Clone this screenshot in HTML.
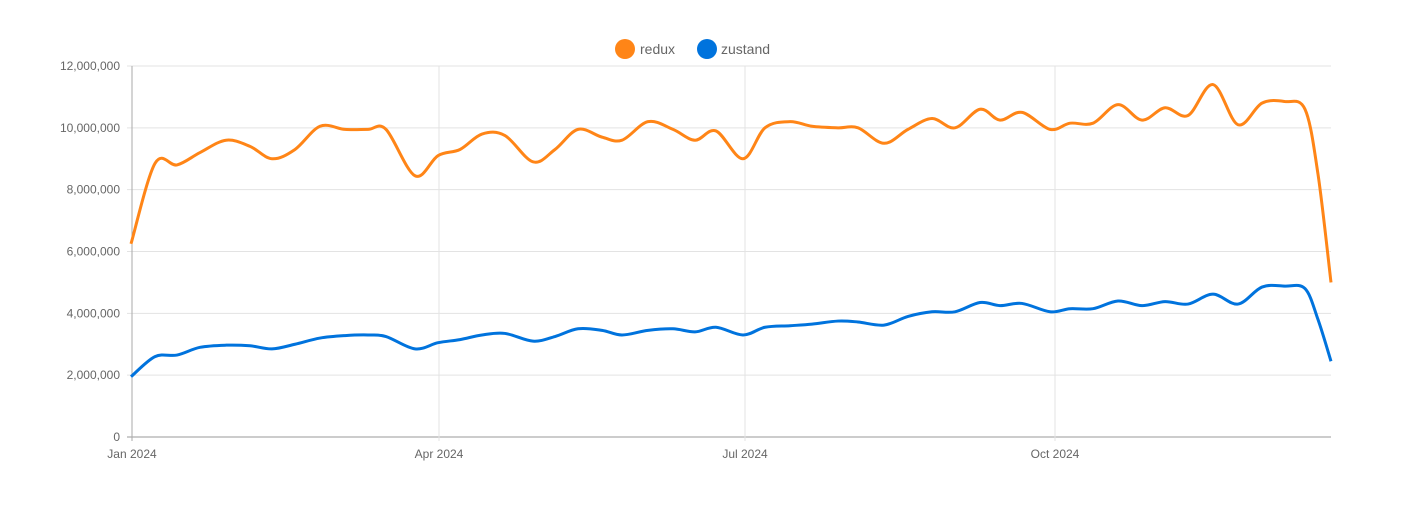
<!DOCTYPE html>
<html><head><meta charset="utf-8"><style>
body{margin:0;background:#fff;font-family:"Liberation Sans",Arial,sans-serif}
svg text{font-family:"Liberation Sans",Arial,sans-serif;fill:#666}
</style></head><body>
<svg id="chart" width="1406" height="521" viewBox="0 0 1406 521" xmlns="http://www.w3.org/2000/svg">
<g id="grid"></g>
<g id="axes"></g>
<g id="lines"></g>
<g>
 <g><circle cx="625" cy="49" r="10" fill="#ff8517"/><text x="640" y="54" font-size="14">redux</text></g>
 <g><circle cx="707" cy="49" r="10" fill="#0073dd"/><text x="721" y="54" font-size="14">zustand</text></g>
</g>
</svg>
<script>
const redux=[6.25,8.85,8.8,9.2,9.6,9.4,9.0,9.3,10.05,9.95,9.95,9.95,8.45,9.1,9.3,9.8,9.75,8.9,9.3,9.95,9.7,9.6,10.2,9.95,9.6,9.9,9.0,10.0,10.2,10.05,10.0,10.0,9.5,9.95,10.3,10.0,10.6,10.25,10.5,9.95,10.15,10.15,10.75,10.25,10.65,10.4,11.4,10.1,10.8,10.85,10.6,8.5,5.0];
const zustand=[1.95,2.6,2.65,2.9,2.97,2.95,2.85,3.0,3.2,3.28,3.3,3.25,2.85,3.05,3.15,3.3,3.35,3.1,3.25,3.5,3.45,3.3,3.45,3.5,3.4,3.55,3.3,3.55,3.6,3.65,3.75,3.72,3.62,3.9,4.05,4.05,4.35,4.25,4.32,4.05,4.15,4.15,4.4,4.25,4.38,4.3,4.62,4.3,4.85,4.88,4.8,3.8,2.45];
const pointX=[131,155,177,200,226,250,272,295,320,345,368,386,415,438,460,482,505,533,555,578,602,622,648,673,695,716,743,765,790,812,838,858,884,908,932,955,980,1000,1022,1050,1070,1093,1118,1142,1165,1188,1213,1238,1262,1285,1305,1318,1331];
const yTicks=[0,2,4,6,8,10,12];
const yTickLabels=["0","2,000,000","4,000,000","6,000,000","8,000,000","10,000,000","12,000,000"];
const xTickLabels=["Jan 2024","Apr 2024","Jul 2024","Oct 2024"];
const xTickPos=[132,439,745,1055];
const NS="http://www.w3.org/2000/svg";
const y=v=>437-v*(371/12);
function mk(t,a,p){const e=document.createElementNS(NS,t);for(const k in a)e.setAttribute(k,a[k]);p.appendChild(e);return e;}
const grid=document.getElementById('grid'),axes=document.getElementById('axes'),lines=document.getElementById('lines');
yTicks.forEach((v,i)=>{
 const l=mk('line',{x1:127,x2:1331,y1:y(v),y2:y(v),stroke:v===0?'#999':'#e3e3e3','stroke-width':1},grid);
 
 
 const t=mk('text',{x:120,y:y(v)+4,'text-anchor':'end','font-size':12},axes);
 t.textContent=yTickLabels[i];
 
 
});
xTickLabels.forEach((s,i)=>{
 const l=mk('line',{x1:xTickPos[i],x2:xTickPos[i],y1:66,y2:441,stroke:i===0?'#aaa':'#e3e3e3','stroke-width':1},grid);
 
 
 const t=mk('text',{x:xTickPos[i],y:458,'text-anchor':'middle','font-size':12},axes);
 t.textContent=s;
 
 
});
function path(vals){
 const p=vals.map((v,i)=>[pointX[i],y(v)]);
 let d='M'+p[0][0]+','+p[0][1];
 for(let i=0;i<p.length-1;i++){
  const p0=p[i-1]||p[i],p1=p[i],p2=p[i+1],p3=p[i+2]||p2;
  const c1=[p1[0]+(p2[0]-p0[0])/6,p1[1]+(p2[1]-p0[1])/6],c2=[p2[0]-(p3[0]-p1[0])/6,p2[1]-(p3[1]-p1[1])/6];
  d+=` C${c1[0]},${c1[1]} ${c2[0]},${c2[1]} ${p2[0]},${p2[1]}`;
 }
 return d;
}
const a=mk('path',{d:path(redux),fill:'none',stroke:'#ff8517','stroke-width':3},lines);


const b=mk('path',{d:path(zustand),fill:'none',stroke:'#0073dd','stroke-width':3},lines);


</script>
</body></html>
